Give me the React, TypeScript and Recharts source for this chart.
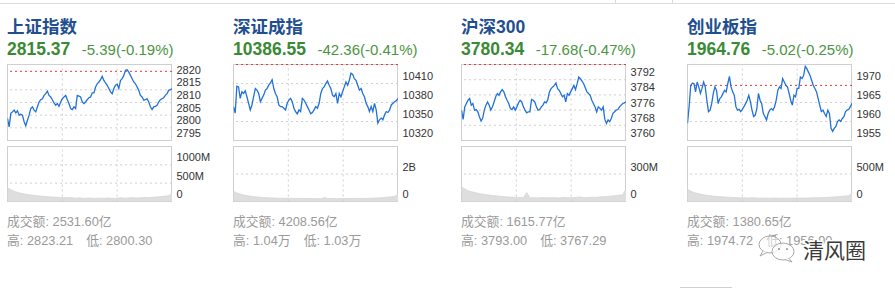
import React from 'react';
import { LineChart, Line, XAxis, YAxis, ReferenceLine, AreaChart, Area } from 'recharts';

// ---------- data ----------
const titles = ['上证指数', '深证成指', '沪深300', '创业板指'];
const lastValues = ['2815.37', '10386.55', '3780.34', '1964.76'];
const changes = ['-5.39(-0.19%)', '-42.36(-0.41%)', '-17.68(-0.47%)', '-5.02(-0.25%)'];
const turnovers = ['2531.60亿', '4208.56亿', '1615.77亿', '1380.65亿'];
const highs = ['2823.21', '1.04万', '3793.00', '1974.72'];
const lows = ['2800.30', '1.03万', '3767.29', '1956.90'];

const shPrices = [2803.7, 2800.4, 2805.7, 2806.3, 2807.0, 2805.9, 2806.7, 2805.0, 2805.4, 2805.0, 2802.4, 2800.8, 2803.0, 2805.0, 2807.6, 2808.3, 2807.0, 2806.3, 2808.3, 2810.2, 2811.1, 2811.5, 2812.8, 2813.5, 2814.5, 2812.8, 2812.2, 2811.1, 2809.8, 2808.9, 2809.6, 2808.5, 2810.2, 2811.5, 2812.2, 2812.8, 2811.1, 2809.6, 2807.6, 2807.2, 2808.3, 2807.6, 2812.8, 2812.5, 2812.2, 2810.2, 2809.6, 2810.2, 2811.1, 2811.9, 2812.2, 2813.8, 2813.8, 2816.1, 2817.4, 2818.1, 2819.0, 2820.3, 2818.7, 2817.7, 2816.8, 2815.5, 2814.2, 2813.5, 2815.5, 2816.8, 2817.2, 2815.5, 2818.7, 2819.4, 2820.7, 2822.7, 2822.9, 2822.0, 2820.7, 2819.4, 2818.1, 2817.4, 2816.1, 2814.8, 2812.8, 2812.2, 2810.9, 2811.1, 2811.5, 2810.2, 2808.3, 2807.2, 2808.3, 2808.5, 2808.9, 2810.2, 2811.1, 2811.5, 2811.9, 2812.8, 2813.5, 2814.8, 2815.1, 2815.4];
const szPrices = [10373.5, 10363.1, 10405.7, 10404.7, 10386.5, 10397.0, 10394.3, 10398.4, 10389.1, 10378.7, 10368.3, 10376.1, 10389.1, 10402.1, 10399.5, 10394.3, 10381.3, 10386.5, 10391.7, 10399.5, 10402.1, 10407.3, 10410.9, 10416.1, 10402.1, 10394.3, 10389.1, 10376.1, 10373.5, 10373.5, 10370.9, 10368.3, 10378.7, 10383.9, 10386.5, 10381.3, 10370.9, 10365.7, 10362.1, 10368.3, 10365.7, 10386.5, 10383.9, 10378.7, 10373.5, 10368.3, 10362.1, 10364.2, 10368.3, 10373.5, 10370.9, 10378.7, 10394.3, 10402.1, 10404.7, 10409.9, 10414.0, 10407.3, 10402.1, 10391.7, 10389.1, 10394.3, 10378.7, 10394.3, 10389.1, 10396.9, 10404.7, 10412.5, 10407.3, 10415.1, 10426.5, 10424.4, 10417.7, 10415.1, 10407.3, 10399.5, 10402.1, 10394.3, 10389.1, 10378.7, 10373.5, 10365.7, 10373.5, 10365.7, 10378.7, 10368.3, 10347.5, 10352.7, 10355.3, 10352.7, 10360.5, 10365.7, 10364.2, 10368.3, 10376.1, 10378.7, 10381.3, 10382.9, 10386.5];
const hsPrices = [3776.0, 3771.1, 3777.7, 3779.5, 3781.2, 3782.1, 3778.6, 3779.5, 3776.0, 3776.3, 3775.1, 3772.5, 3770.3, 3771.7, 3776.0, 3778.6, 3780.3, 3778.6, 3776.0, 3777.7, 3780.3, 3783.0, 3784.7, 3783.8, 3785.6, 3786.8, 3785.6, 3783.0, 3781.2, 3779.5, 3776.9, 3776.3, 3777.7, 3776.0, 3777.7, 3779.8, 3781.2, 3780.3, 3777.7, 3776.0, 3774.6, 3775.1, 3775.1, 3781.6, 3781.2, 3780.3, 3777.7, 3776.0, 3776.3, 3777.7, 3778.6, 3780.3, 3779.8, 3781.6, 3785.6, 3787.3, 3788.2, 3789.0, 3790.3, 3787.3, 3786.4, 3784.7, 3783.0, 3783.8, 3780.3, 3784.7, 3783.8, 3785.6, 3787.3, 3789.0, 3786.8, 3789.9, 3793.4, 3792.5, 3791.3, 3789.9, 3787.8, 3785.6, 3784.7, 3783.8, 3781.2, 3779.5, 3777.7, 3775.1, 3777.7, 3776.9, 3776.0, 3777.7, 3771.1, 3769.0, 3770.8, 3769.9, 3771.7, 3774.3, 3775.1, 3776.0, 3776.3, 3777.7, 3778.6, 3779.5, 3779.8, 3780.3];
const cyPrices = [1959.5, 1963.9, 1969.5, 1970.1, 1970.0, 1967.8, 1970.4, 1969.1, 1967.4, 1968.7, 1970.4, 1969.1, 1965.6, 1962.6, 1963.0, 1964.7, 1967.4, 1969.1, 1968.2, 1964.7, 1966.0, 1966.5, 1967.4, 1968.2, 1967.8, 1970.0, 1971.9, 1969.1, 1967.8, 1966.9, 1963.9, 1963.0, 1963.2, 1962.6, 1963.2, 1963.9, 1964.7, 1965.6, 1966.9, 1965.2, 1963.0, 1961.3, 1961.7, 1963.4, 1967.4, 1965.6, 1964.7, 1962.1, 1961.3, 1960.4, 1962.1, 1963.0, 1963.4, 1963.0, 1963.9, 1965.6, 1968.2, 1969.1, 1968.7, 1971.3, 1970.4, 1969.5, 1969.1, 1967.4, 1965.6, 1964.3, 1966.9, 1966.5, 1968.7, 1968.7, 1971.7, 1971.3, 1972.1, 1974.5, 1973.9, 1973.0, 1972.1, 1970.8, 1969.5, 1968.7, 1967.8, 1966.0, 1964.3, 1962.6, 1963.0, 1962.1, 1961.3, 1963.0, 1962.1, 1958.2, 1957.4, 1958.2, 1958.7, 1960.0, 1960.4, 1960.0, 1960.8, 1961.3, 1962.6, 1963.0, 1963.2, 1963.9, 1964.8];

const shVolumes = [365, 330, 290, 260, 240, 220, 205, 190, 180, 170, 160, 150, 145, 140, 130, 125, 120, 115, 110, 108, 105, 100, 110, 95, 92, 100, 90, 88, 95, 90, 85, 88, 92, 85, 90, 95, 88, 85, 92, 100, 95, 90, 98, 105, 100, 95, 100, 108, 110, 105, 115, 120, 125, 135, 140, 150, 160, 240];
const szVolumes = [730, 640, 560, 500, 450, 410, 380, 350, 330, 310, 290, 280, 270, 260, 250, 245, 240, 235, 230, 240, 225, 220, 215, 230, 220, 210, 215, 220, 210, 205, 215, 300, 220, 210, 215, 205, 210, 220, 215, 210, 220, 225, 215, 220, 230, 225, 235, 240, 250, 260, 270, 290, 310, 330, 350, 380, 560];
const hsVolumes = [157, 140, 120, 108, 100, 92, 85, 80, 75, 70, 66, 62, 58, 55, 52, 50, 48, 47, 45, 44, 43, 98, 42, 41, 40, 39, 44, 40, 41, 40, 42, 39, 40, 43, 41, 40, 42, 45, 50, 43, 42, 44, 46, 45, 48, 50, 52, 55, 58, 62, 66, 70, 73, 142];
const cyVolumes = [218, 190, 165, 148, 135, 125, 115, 108, 100, 95, 90, 86, 82, 78, 75, 72, 70, 68, 66, 65, 64, 70, 62, 61, 60, 62, 61, 60, 63, 61, 60, 62, 61, 60, 62, 64, 63, 62, 65, 64, 66, 68, 67, 70, 72, 75, 78, 82, 86, 90, 95, 100, 104, 153];

const priceDomains = [[2795, 2825], [10320, 10440], [3760, 3800], [1955, 1975]];
const priceTicks = [[2820, 2815, 2810, 2805, 2800, 2795], [10410, 10380, 10350, 10320], [3792, 3784, 3776, 3768, 3760], [1970, 1965, 1960, 1955]];
const priceGrid = [[2815, 2810, 2805, 2800], [10410, 10380, 10350], [3792, 3784, 3776, 3768], [1965, 1960]];
const prevCloseLines = [2822.3, 10440, 3800, 1969.5];

const volumeDomains = [[0, 1500], [0, 4000], [0, 600], [0, 1000]];
const volumeTicks = [[1000, 500, 0], [2000, 0], [300, 0], [500, 0]];
const volumeTickLabels = [['1000M', '500M', '0'], ['2B', '0'], ['300M', '0'], ['500M', '0']];

const timeGrid = [80, 160]; // minutes into the 240-minute session

const allPrices = [shPrices, szPrices, hsPrices, cyPrices];
const allVolumes = [shVolumes, szVolumes, hsVolumes, cyVolumes];

// ---------- layout ----------
const PANEL_LEFT = [7, 233, 461, 687];
const BOX_W = 165;
const PRICE_TOP = 64;
const PRICE_H = 77;
const VOL_TOP = 146;
const VOL_H = 56;
const AXIS_W = 45.5;

const FONT = "'Liberation Sans', Arial, 'Noto Sans CJK SC', sans-serif";
const GRID = '#d0d0d0';
const LINE = '#2171dc';

const toRows = (arr: number[]) => arr.map((v, i) => ({ t: (i / (arr.length - 1)) * 240, v }));

const makeTick = (labels?: string[], ticks?: number[]) => (p: any) => {
  const val = p.payload.value;
  let label = String(val);
  if (labels && ticks) {
    const k = ticks.indexOf(val);
    if (k >= 0) label = labels[k];
  }
  return (
    <text x={p.x} y={p.y - 3.5} fontSize={11} fill="#333" fontFamily={FONT}>
      {label}
    </text>
  );
};

function PriceChart({ idx }: { idx: number }) {
  const rows = toRows(allPrices[idx]);
  return (
    <LineChart width={BOX_W + AXIS_W} height={PRICE_H} data={rows} margin={{ top: 0.5, right: 0, bottom: 0.5, left: 0.5 }}>
      <XAxis type="number" dataKey="t" domain={[0, 240]} hide allowDataOverflow />
      <YAxis
        orientation="right"
        type="number"
        domain={priceDomains[idx]}
        ticks={priceTicks[idx]}
        allowDataOverflow
        width={AXIS_W}
        axisLine={false}
        tickLine={false}
        tickSize={0}
        tickMargin={4.5}
        interval={0}
        tick={makeTick()}
      />
      {priceGrid[idx].map((g) => (
        <ReferenceLine key={'g' + g} y={g} stroke={GRID} strokeDasharray="2 3" />
      ))}
      {timeGrid.map((t) => (
        <ReferenceLine key={'t' + t} x={t} stroke={GRID} strokeDasharray="2 3" />
      ))}
      <ReferenceLine y={prevCloseLines[idx]} stroke="#e23b3b" strokeDasharray="2 3" ifOverflow="visible" />
      <Line type="linear" dataKey="v" stroke={LINE} strokeWidth={1.3} dot={false} isAnimationActive={false} />
    </LineChart>
  );
}

function VolumeChart({ idx }: { idx: number }) {
  const rows = toRows(allVolumes[idx]);
  return (
    <AreaChart width={BOX_W + AXIS_W} height={VOL_H} data={rows} margin={{ top: 0.5, right: 0, bottom: 0.5, left: 0.5 }}>
      <XAxis type="number" dataKey="t" domain={[0, 240]} hide allowDataOverflow />
      <YAxis
        orientation="right"
        type="number"
        domain={volumeDomains[idx]}
        ticks={volumeTicks[idx]}
        allowDataOverflow
        width={AXIS_W}
        axisLine={false}
        tickLine={false}
        tickSize={0}
        tickMargin={4.5}
        interval={0}
        tick={makeTick(volumeTickLabels[idx], volumeTicks[idx])}
      />
      {volumeTicks[idx].filter((v) => v !== 0).map((g) => (
        <ReferenceLine key={'g' + g} y={g} stroke={GRID} strokeDasharray="2 3" />
      ))}
      {timeGrid.map((t) => (
        <ReferenceLine key={'t' + t} x={t} stroke={GRID} strokeDasharray="2 3" />
      ))}
      <Area type="linear" dataKey="v" stroke="#d6d6d6" strokeWidth={0.8} fill="#dedede" fillOpacity={1} isAnimationActive={false} />
    </AreaChart>
  );
}

export default function App() {
  return (
    <div style={{ position: 'absolute', left: 0, top: 0, width: 895, height: 288, background: '#fff', overflow: 'hidden' }}>
      {/* boxes (under charts) */}
      {PANEL_LEFT.map((x, i) => (
        <React.Fragment key={'b' + i}>
          <div style={{ position: 'absolute', left: x, top: PRICE_TOP, width: BOX_W, height: PRICE_H, border: '1px solid #cfcfcf', boxSizing: 'border-box' }} />
          <div style={{ position: 'absolute', left: x, top: VOL_TOP, width: BOX_W, height: VOL_H, border: '1px solid #cfcfcf', boxSizing: 'border-box' }} />
        </React.Fragment>
      ))}
      {PANEL_LEFT.map((x, i) => (
        <React.Fragment key={'c' + i}>
          <div style={{ position: 'absolute', left: x, top: PRICE_TOP }}>
            <PriceChart idx={i} />
          </div>
          <div style={{ position: 'absolute', left: x, top: VOL_TOP }}>
            <VolumeChart idx={i} />
          </div>
        </React.Fragment>
      ))}
      <svg width={895} height={288} style={{ position: 'absolute', left: 0, top: 0, pointerEvents: 'none' }}>
        <line x1={0} y1={3.5} x2={895} y2={3.5} stroke="#dcdcdc" />
        <line x1={615.5} y1={0} x2={615.5} y2={3} stroke="#dcdcdc" />
        <line x1={672.5} y1={0} x2={672.5} y2={3} stroke="#dcdcdc" />
        <line x1={680} y1={287.5} x2={732} y2={287.5} stroke="#d0d0d0" />
        {PANEL_LEFT.map((x, i) => (
          <g key={'t' + i} fontFamily={FONT}>
            <text x={x} y={32.5} fontSize={17.5} fontWeight="bold" fill="#1f4f8f">{titles[i]}</text>
            <text x={x} y={55} fontSize={17.5} fontWeight="bold" fill="#3a8a35">
              {lastValues[i]}
              <tspan dx={11.5} fontSize={15} fontWeight="normal" fill="#4b9442">{changes[i]}</tspan>
            </text>
            <text x={x} y={226} fontSize={12.8} fill="#9a9a9a">成交额: {turnovers[i]}</text>
            <text x={x} y={244.5} fontSize={12.8} fill="#9a9a9a">
              高: {highs[i]}
              <tspan dx={13}>低: {lows[i]}</tspan>
            </text>
          </g>
        ))}
        {/* watermark */}
        <g>
          <ellipse cx={770} cy={244.5} rx={11} ry={8.5} fill="#fff" fillOpacity={0.55} stroke="#a8a8a8" strokeWidth={1} />
          <path d="M763 251 L760 256 L767 252.5" fill="#fff" stroke="#a8a8a8" strokeWidth={1} />
          <ellipse cx={783} cy={251.5} rx={11} ry={8.5} fill="#fff" fillOpacity={0.75} stroke="#a8a8a8" strokeWidth={1} />
          <path d="M789 258.5 L792 262 L785 259.5" fill="#fff" stroke="#a8a8a8" strokeWidth={1} />
          <circle cx={779} cy={249} r={1.1} fill="#999" />
          <circle cx={787} cy={249} r={1.1} fill="#999" />
          <text x={803} y={257.5} fontSize={21} fill="#3a3a3a" fontFamily="'Noto Sans CJK SC', sans-serif" stroke="#fff" strokeWidth={3} paintOrder="stroke">清风圈</text>
        </g>
      </svg>
    </div>
  );
}
